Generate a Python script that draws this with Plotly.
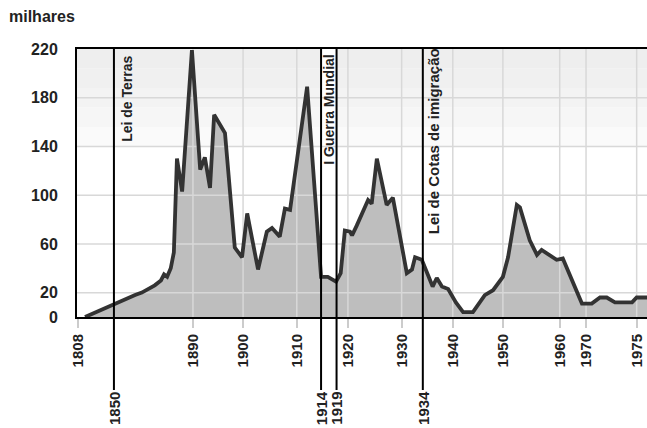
import plotly.graph_objects as go

# Horizontal position of each point, on the chart's own (irregular) year scale
anos = [1869.1, 1874.9, 1878.8, 1880.1, 1882.6, 1883.8, 1884.4, 1885.0, 1885.7, 1886.3,
        1886.9, 1887.9, 1889.8, 1891.4, 1892.3, 1893.3, 1894.1, 1896.2, 1898.1, 1899.5,
        1900.5, 1902.6, 1904.3, 1905.3, 1906.8, 1907.8, 1908.8, 1912.1, 1914.8, 1916.1,
        1917.7, 1918.6, 1919.4, 1920.4, 1920.8, 1921.7, 1923.9, 1924.6, 1925.6, 1927.5,
        1928.7, 1931.4, 1932.4, 1933.0, 1934.3, 1936.4, 1937.2, 1938.2, 1939.4, 1940.9,
        1942.3, 1944.2, 1946.5, 1948.1, 1950.0, 1951.0, 1952.7, 1953.3, 1955.2, 1956.6,
        1957.5, 1960.4, 1961.6, 1965.3, 1967.2, 1968.8, 1970.1, 1971.7, 1975.0, 1975.9,
        1977.9]
milhares = [0, 11, 18, 20, 26, 30, 35, 33, 40, 53,
            130, 103, 219, 121, 131, 106, 166, 151, 57, 49,
            85, 39, 70, 73, 66, 89, 88, 189, 33, 33,
            29, 36, 71, 70, 67, 75, 96, 93, 130, 92,
            98, 36, 39, 49, 47, 25, 32, 25, 23, 12,
            4, 4, 18, 22, 33, 49, 92, 90, 63, 51,
            55, 47, 48, 11, 11, 16, 16, 12, 12, 16,
            16]

tick_pos = [1867.7, 1890.0, 1899.7, 1910.1, 1920.0, 1930.4, 1940.3, 1950.0, 1961.0, 1966.1, 1975.9]
tick_labels = ["1808", "1890", "1900", "1910", "1920", "1930", "1940", "1950", "1960", "1970", "1975"]
grid_x = tick_pos[1:]

y_ticks = [0, 20, 60, 100, 140, 180, 220]

eventos_pos = [1874.7, 1914.8, 1917.8, 1934.5]
eventos_ano = ["1850", "1914", "1919", "1934"]
eventos_texto = ["Lei de Terras", "I Guerra Mundial", "Lei de Cotas de imigração"]
texto_pos = [1877.2, 1916.3, 1936.6]
texto_y = [179, 170, 144]
texto_size = [14, 14, 15]

X0, X1 = 1867.55, 1977.9
FONT = "Liberation Sans"
TXT = "#222222"

fig = go.Figure()

fig.add_trace(go.Scatter(x=anos, y=milhares, mode="lines", fill="tozeroy",
                         fillcolor="#bebebe", line=dict(width=0), hoverinfo="skip"))

# grid lines drawn over the fill
gx, gy = [], []
for v in grid_x:
    gx += [v, v, None]
    gy += [0, 220, None]
for v in y_ticks[1:-1]:
    gx += [X0, X1, None]
    gy += [v, v, None]
fig.add_trace(go.Scatter(x=gx, y=gy, mode="lines", line=dict(color="#d8d8d8", width=1.5),
                         hoverinfo="skip"))

fig.add_trace(go.Scatter(x=anos, y=milhares, mode="lines",
                         line=dict(color="#333333", width=3.8), hoverinfo="skip"))

shapes = []
# light gray band at the top of the plot
bands = [(140, 156, "#fafafa"), (156, 172, "#f6f6f6"), (172, 188, "#f3f3f3"),
         (188, 204, "#f0f0f0"), (204, 220, "#eeeeee")]
for b0, b1, c in bands:
    shapes.append(dict(type="rect", xref="paper", yref="y", x0=0, x1=1, y0=b0, y1=b1,
                       fillcolor=c, line=dict(width=0), layer="below"))
# white strip behind the war label
shapes.append(dict(type="rect", xref="x", yref="y", x0=eventos_pos[1], x1=eventos_pos[2],
                   y0=120, y1=220, fillcolor="white", line=dict(width=0), layer="below"))
# event lines extending below the axis
for p in eventos_pos:
    shapes.append(dict(type="line", xref="x", yref="paper", x0=p, x1=p, y0=-0.272, y1=1,
                       line=dict(color="black", width=2), layer="above"))

annotations = [dict(text="<b>milhares</b>", xref="paper", yref="paper", x=-0.122, y=1.12,
                    xanchor="left", yanchor="middle", showarrow=False,
                    font=dict(family=FONT, size=16, color=TXT))]
for p, a in zip(eventos_pos, eventos_ano):
    annotations.append(dict(text="<b>%s</b>" % a, xref="x", yref="paper", x=p, y=-0.34,
                            xanchor="center", yanchor="middle", textangle=-90, showarrow=False,
                            font=dict(family=FONT, size=15, color=TXT)))
for t, p, yv, s in zip(eventos_texto, texto_pos, texto_y, texto_size):
    annotations.append(dict(text="<b>%s</b>" % t, xref="x", yref="y", x=p, y=yv,
                            xanchor="center", yanchor="middle", textangle=-90, showarrow=False,
                            font=dict(family=FONT, size=s, color=TXT)))

fig.update_layout(
    template="none",
    width=647, height=428,
    margin=dict(l=77, r=0, t=49, b=111, autoexpand=False),
    paper_bgcolor="white", plot_bgcolor="white",
    showlegend=False,
    shapes=shapes, annotations=annotations,
    xaxis=dict(range=[X0, X1], tickmode="array", tickvals=tick_pos,
               ticktext=["<b>%s</b>" % t for t in tick_labels],
               tickangle=-90, showgrid=False, zeroline=False, automargin=False,
               showline=True, linecolor="black", linewidth=2, mirror=True,
               ticks="outside", ticklen=9, tickcolor="#cccccc", tickwidth=1.5,
               tickfont=dict(family=FONT, size=15, color=TXT)),
    yaxis=dict(range=[0, 220], tickmode="array", tickvals=y_ticks,
               ticktext=["<b>%d</b>" % v for v in y_ticks],
               showgrid=False, zeroline=False, automargin=False,
               showline=True, linecolor="black", linewidth=2,
               ticks="", ticklabelstandoff=14,
               tickfont=dict(family=FONT, size=16, color=TXT)),
)

fig.write_html("out.html", config={"displayModeBar": False},
               post_script="document.body.style.margin='0px';document.body.style.overflow='hidden';")
